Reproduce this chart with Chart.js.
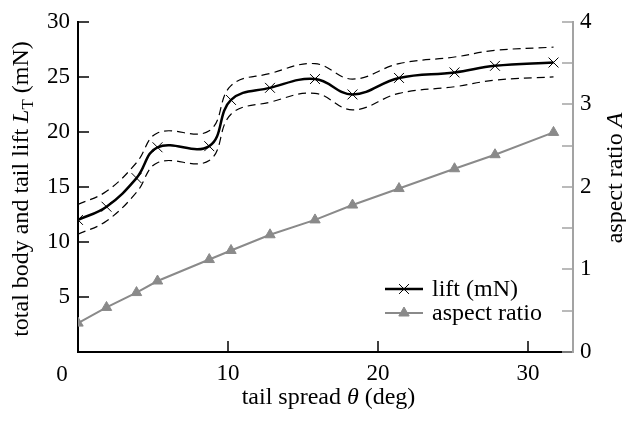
<!DOCTYPE html>
<html>
<head>
<meta charset="utf-8">
<script src="https://cdn.jsdelivr.net/npm/chart.js@4.4.0/dist/chart.umd.min.js"></script>
<style>
  html, body { margin: 0; padding: 0; background: #fff; }
</style>
</head>
<body>
<canvas id="liftChart" width="626" height="421"></canvas>
<script>
// tail spread (deg) at each measurement
const spread = [0, 1.9, 3.9, 5.3, 8.75, 10.2, 12.8, 15.8, 18.3, 21.4, 25.1, 27.8, 31.7];
// total body and tail lift (mN) with dashed band above/below
const lift      = [12.0, 13.2, 15.8, 18.6, 18.7, 22.9, 24.0, 24.8, 23.4, 24.9, 25.4, 26.0, 26.3];
const liftUpper = [13.4, 14.6, 17.2, 19.9, 20.1, 24.2, 25.3, 26.2, 24.8, 26.2, 26.8, 27.4, 27.7];
const liftLower = [10.7, 11.9, 14.5, 17.2, 17.4, 21.6, 22.7, 23.5, 22.0, 23.5, 24.1, 24.7, 25.0];
// aspect ratio A
const aspectRatio = [0.35, 0.54, 0.72, 0.86, 1.12, 1.23, 1.42, 1.60, 1.78, 1.98, 2.22, 2.39, 2.66];

const xTicks = [0, 10, 20, 30];
const liftTicks = [0, 5, 10, 15, 20, 25, 30];
const aspectTicks = [0, 0.5, 1, 1.5, 2, 2.5, 3, 3.5, 4];

const SERIF = '"Liberation Serif", "Times New Roman", serif';
const FONT = '24px ' + SERIF;
const TICK_SIZE = 23;
const GREY = '#8a8a8a';
const AXIS_GREY = '#a3a3a3';

const pts = vals => vals.map((v, i) => ({ x: spread[i], y: v }));
const setTicks = list => scale => { scale.ticks = list.map(v => ({ value: v })); };

function line(ctx, x1, y1, x2, y2) {
  ctx.beginPath();
  ctx.moveTo(x1, y1);
  ctx.lineTo(x2, y2);
  ctx.stroke();
}

// draws text made of pieces with different fonts, centred on (cx, cy)
function drawPieces(ctx, pieces, cx, cy, angle) {
  ctx.save();
  ctx.translate(cx, cy);
  ctx.rotate(angle);
  let total = 0;
  pieces.forEach(p => { ctx.font = p.f; total += ctx.measureText(p.t).width; });
  let x = -total / 2;
  ctx.textAlign = 'left';
  ctx.textBaseline = 'alphabetic';
  ctx.fillStyle = '#000';
  pieces.forEach(p => {
    ctx.font = p.f;
    ctx.fillText(p.t, x, p.dy || 0);
    x += ctx.measureText(p.t).width;
  });
  ctx.restore();
}

const decorations = {
  id: 'decorations',
  afterDraw(chart) {
    const { ctx, chartArea: a, scales } = chart;
    ctx.save();

    // inward tick marks
    ctx.lineWidth = 1.5;
    ctx.strokeStyle = '#000';
    scales.y.ticks.forEach(t => {
      if (!t.value) return;
      const py = Math.round(scales.y.getPixelForValue(t.value));
      line(ctx, a.left, py, a.left + 11, py);
    });
    scales.x.ticks.forEach(t => {
      if (!t.value) return;
      const px = Math.round(scales.x.getPixelForValue(t.value));
      line(ctx, px, a.bottom, px, a.bottom - 11);
    });
    ctx.strokeStyle = AXIS_GREY;
    scales.y1.ticks.forEach(t => {
      const py = Math.round(scales.y1.getPixelForValue(t.value));
      line(ctx, a.right, py, a.right - 11, py);
    });

    // the "0" on the x axis sits left of the corner
    ctx.font = TICK_SIZE + 'px ' + SERIF;
    ctx.fillStyle = '#000';
    ctx.textAlign = 'center';
    ctx.textBaseline = 'alphabetic';
    ctx.fillText('0', scales.x.getPixelForValue(0) - 16, 381);

    // axis titles
    const it = 'italic ' + FONT;
    drawPieces(ctx, [
      { t: 'tail spread ', f: FONT },
      { t: 'θ', f: it },
      { t: ' (deg)', f: FONT }
    ], (a.left + a.right) / 2 + 3, 404, 0);
    drawPieces(ctx, [
      { t: 'total body and tail lift ', f: FONT },
      { t: 'L', f: it },
      { t: 'T', f: '17px ' + SERIF, dy: 5 },
      { t: ' (mN)', f: FONT }
    ], 28, 189, -Math.PI / 2);
    drawPieces(ctx, [
      { t: 'aspect ratio ', f: FONT },
      { t: 'A', f: it }
    ], 622, 178, -Math.PI / 2);

    // legend
    const items = [
      { label: 'lift (mN)', ds: chart.data.datasets[0], y: 289 },
      { label: 'aspect ratio', ds: chart.data.datasets[3], y: 313 }
    ];
    items.forEach(item => {
      const ds = item.ds;
      ctx.strokeStyle = ds.borderColor;
      ctx.lineWidth = ds.borderWidth;
      line(ctx, 385, item.y, 423, item.y);
      ctx.fillStyle = ds.pointBackgroundColor;
      ctx.strokeStyle = ds.pointBorderColor;
      ctx.lineWidth = ds.pointBorderWidth;
      Chart.helpers.drawPoint(ctx, {
        pointStyle: ds.pointStyle,
        radius: ds.pointRadius,
        borderWidth: ds.pointBorderWidth,
        rotation: 0
      }, 404, item.y);
      ctx.fillStyle = '#000';
      ctx.font = FONT;
      ctx.textAlign = 'left';
      ctx.textBaseline = 'alphabetic';
      ctx.fillText(item.label, 432, item.y + 7);
    });

    ctx.restore();
  }
};

const tickFont = { family: SERIF, size: TICK_SIZE };

new Chart(document.getElementById('liftChart').getContext('2d'), {
  type: 'line',
  data: {
    datasets: [
      {
        label: 'lift (mN)',
        data: pts(lift),
        yAxisID: 'y',
        borderColor: '#000',
        borderWidth: 2.5,
        tension: 0.4,
        pointStyle: 'crossRot',
        pointRadius: 7,
        pointBorderWidth: 1,
        pointBorderColor: '#000',
        pointBackgroundColor: '#000',
        order: 1
      },
      {
        label: 'upper',
        data: pts(liftUpper),
        yAxisID: 'y',
        borderColor: '#000',
        borderWidth: 1.2,
        borderDash: [8, 5],
        tension: 0.4,
        pointRadius: 0,
        order: 2
      },
      {
        label: 'lower',
        data: pts(liftLower),
        yAxisID: 'y',
        borderColor: '#000',
        borderWidth: 1.2,
        borderDash: [8, 5],
        tension: 0.4,
        pointRadius: 0,
        order: 2
      },
      {
        label: 'aspect ratio',
        data: pts(aspectRatio),
        yAxisID: 'y1',
        borderColor: GREY,
        borderWidth: 2,
        tension: 0,
        pointStyle: 'triangle',
        pointRadius: 6,
        pointBorderWidth: 1,
        pointBorderColor: GREY,
        pointBackgroundColor: GREY,
        order: 0
      }
    ]
  },
  options: {
    responsive: false,
    animation: false,
    devicePixelRatio: 1,
    layout: { padding: { top: 17, left: 0, right: 0, bottom: 0 } },
    plugins: {
      legend: { display: false },
      tooltip: { enabled: false }
    },
    scales: {
      x: {
        type: 'linear',
        min: 0,
        max: 33,
        afterBuildTicks: setTicks(xTicks),
        afterFit: s => { s.height = 69; },
        grid: { display: false, drawTicks: false },
        border: { display: true, color: '#000', width: 2 },
        ticks: {
          padding: 8,
          color: '#000',
          font: tickFont,
          callback: v => (v === 0 ? '' : v)
        }
      },
      y: {
        position: 'left',
        min: 0,
        max: 30,
        afterBuildTicks: setTicks(liftTicks),
        afterFit: s => { s.width = 78; },
        grid: { display: false, drawTicks: false },
        border: { display: true, color: '#000', width: 2 },
        ticks: {
          padding: 8,
          color: '#000',
          font: tickFont,
          callback: v => (v === 0 ? '' : v)
        }
      },
      y1: {
        position: 'right',
        min: 0,
        max: 4,
        afterBuildTicks: setTicks(aspectTicks),
        afterFit: s => { s.width = 53; },
        grid: { display: false, drawTicks: false },
        border: { display: true, color: AXIS_GREY, width: 2 },
        ticks: {
          padding: 7,
          color: '#000',
          font: tickFont,
          callback: v => (Number.isInteger(v) ? v : '')
        }
      }
    }
  },
  plugins: [decorations]
});
</script>
</body>
</html>
